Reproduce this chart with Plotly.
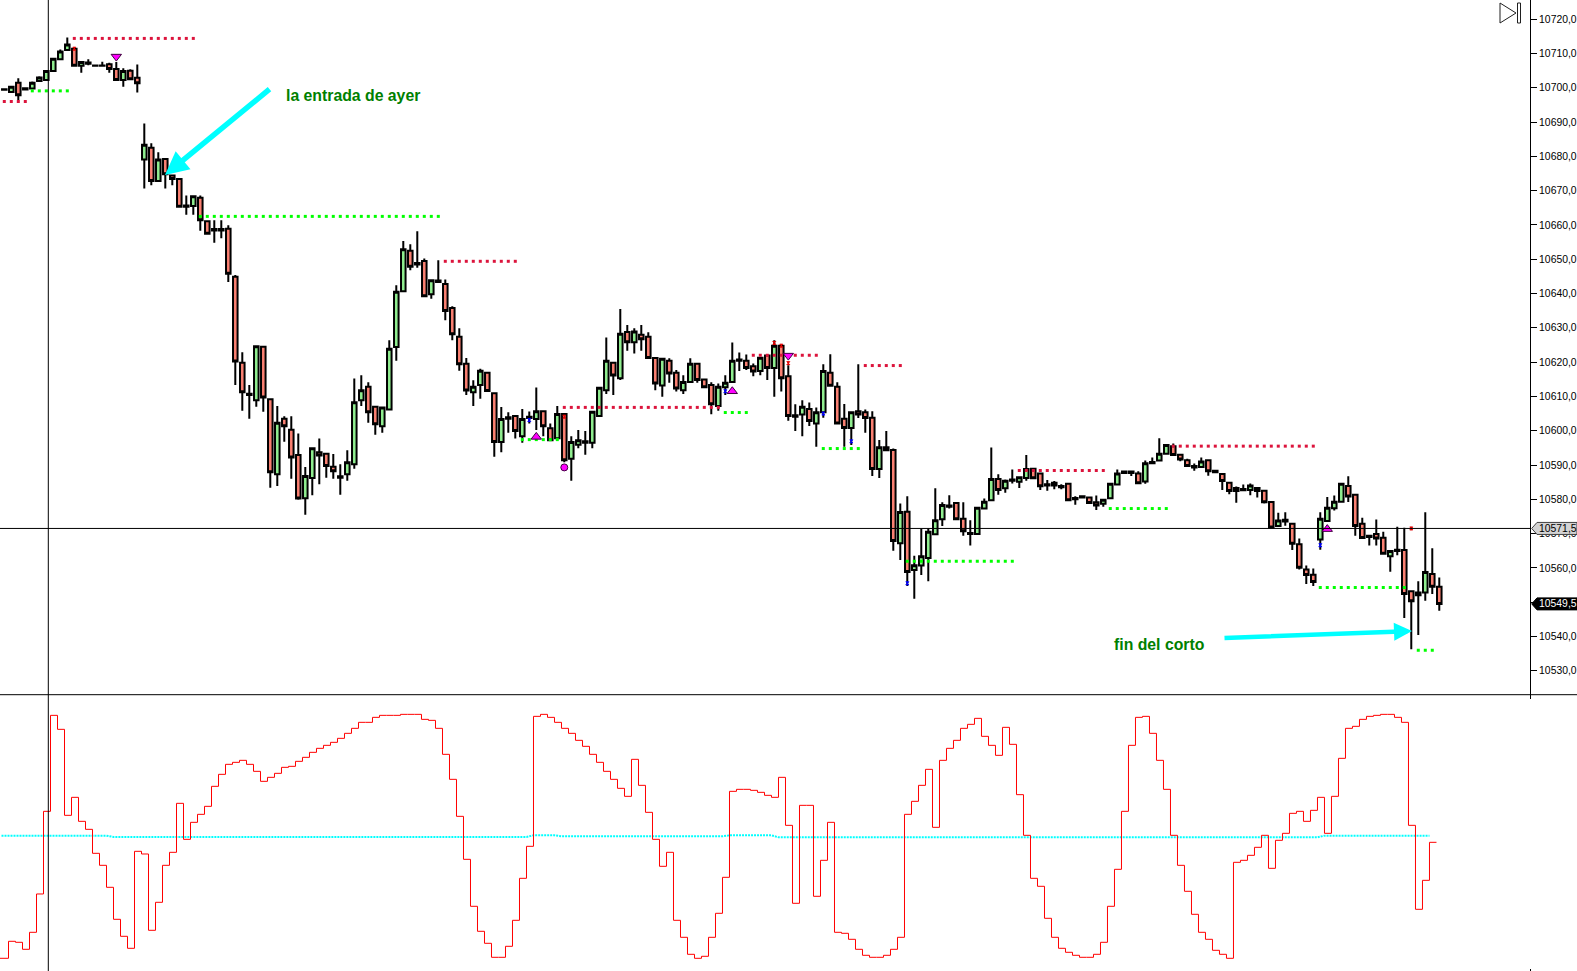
import plotly.graph_objects as go
from plotly.subplots import make_subplots

W, H = 1577, 971

# candles: top and bottom of each body, wick ends
tops = [
    10699.6, 10700.3, 10701.5, 10699.9, 10701.5, 10703.0, 10704.9, 10708.5, 10710.6, 10712.6,
    10711.4, 10707.5, 10707.4, 10706.5, 10706.5, 10706.9, 10705.5, 10704.9, 10705.0, 10702.9,
    10683.4, 10682.5, 10679.1, 10679.2, 10674.4, 10673.4, 10665.7, 10668.4, 10667.9, 10661.1,
    10658.8, 10658.8, 10658.9, 10644.9, 10619.8, 10610.8, 10624.6, 10624.5, 10609.2, 10602.3,
    10603.5, 10600.3, 10592.9, 10586.8, 10594.9, 10593.7, 10593.3, 10589.5, 10586.7, 10590.8,
    10608.3, 10611.8, 10612.8, 10607.0, 10606.8, 10623.9, 10640.5, 10652.9, 10652.5, 10648.9,
    10649.5, 10643.9, 10643.8, 10642.8, 10635.8, 10627.4, 10619.5, 10612.8, 10617.5, 10616.9,
    10610.9, 10603.4, 10603.9, 10604.3, 10603.4, 10604.1, 10605.7, 10605.7, 10600.7, 10604.9,
    10604.9, 10596.7, 10597.2, 10596.9, 10605.5, 10612.5, 10620.4, 10619.8, 10628.3, 10628.8,
    10628.9, 10628.0, 10627.4, 10621.2, 10621.0, 10620.4, 10616.9, 10614.2, 10619.5, 10619.5,
    10614.9, 10613.3, 10612.8, 10614.0, 10620.4, 10620.8, 10620.4, 10618.8, 10621.3, 10621.9,
    10624.8, 10624.8, 10615.9, 10604.5, 10607.0, 10606.3, 10605.4, 10617.4, 10616.9, 10612.8,
    10603.5, 10605.4, 10605.7, 10605.4, 10603.8, 10595.2, 10595.2, 10594.4, 10576.3, 10576.4,
    10560.8, 10563.4, 10570.5, 10573.9, 10578.3, 10578.2, 10578.9, 10574.3, 10570.2, 10577.5,
    10579.3, 10585.9, 10585.9, 10585.4, 10585.8, 10586.4, 10588.8, 10588.9, 10587.5, 10584.4,
    10584.8, 10583.9, 10584.5, 10580.4, 10580.9, 10580.5, 10579.1, 10579.9, 10584.5, 10587.5,
    10588.1, 10588.1, 10587.5, 10590.5, 10590.9, 10593.3, 10595.8, 10595.5, 10593.0, 10591.4,
    10589.7, 10591.0, 10591.4, 10588.3, 10587.4, 10584.8, 10583.3, 10583.0, 10584.0, 10583.3,
    10582.5, 10579.2, 10573.8, 10574.0, 10572.9, 10566.9, 10559.5, 10558.0, 10574.3, 10577.5,
    10579.3, 10584.5, 10583.9, 10581.3, 10572.9, 10569.4, 10569.9, 10568.8, 10564.9, 10565.3,
    10565.2, 10553.2, 10552.8, 10558.8, 10558.2, 10554.5,
]
bottoms = [
    10699.4, 10698.8, 10697.8, 10699.5, 10699.8, 10702.0, 10702.3, 10704.9, 10708.3, 10711.0,
    10706.4, 10706.4, 10707.0, 10706.4, 10706.4, 10705.5, 10702.3, 10702.3, 10702.5, 10701.3,
    10679.1, 10672.8, 10672.8, 10674.8, 10673.4, 10665.3, 10665.3, 10665.5, 10661.4, 10657.4,
    10658.4, 10658.4, 10645.8, 10620.2, 10611.2, 10610.4, 10608.9, 10609.7, 10587.9, 10587.3,
    10601.3, 10592.2, 10580.2, 10580.3, 10586.2, 10592.8, 10589.7, 10588.2, 10586.3, 10587.3,
    10590.2, 10608.9, 10605.4, 10601.9, 10601.3, 10606.2, 10624.4, 10640.7, 10647.8, 10648.5,
    10639.2, 10639.8, 10643.4, 10634.9, 10628.1, 10619.4, 10611.7, 10611.2, 10613.3, 10611.6,
    10596.7, 10596.7, 10603.5, 10599.9, 10598.4, 10603.7, 10603.4, 10601.3, 10597.2, 10597.8,
    10591.4, 10591.8, 10595.9, 10596.5, 10596.5, 10604.3, 10611.8, 10616.1, 10615.3, 10625.8,
    10625.8, 10626.7, 10621.2, 10613.8, 10613.2, 10616.7, 10612.3, 10611.8, 10614.2, 10614.8,
    10612.7, 10607.7, 10607.2, 10612.7, 10614.2, 10620.4, 10618.3, 10617.3, 10617.4, 10618.3,
    10618.3, 10615.3, 10604.3, 10604.1, 10604.7, 10602.8, 10602.1, 10605.4, 10613.1, 10602.1,
    10600.8, 10600.8, 10604.7, 10603.7, 10588.8, 10588.8, 10594.3, 10567.8, 10567.2, 10558.8,
    10559.4, 10560.7, 10562.9, 10569.8, 10574.2, 10577.8, 10574.2, 10570.7, 10569.9, 10569.9,
    10577.3, 10579.7, 10582.7, 10583.2, 10585.4, 10585.1, 10586.2, 10586.1, 10583.8, 10584.0,
    10584.0, 10583.5, 10579.7, 10580.0, 10580.5, 10578.9, 10578.2, 10578.7, 10580.3, 10584.3,
    10587.7, 10587.7, 10584.7, 10585.2, 10590.5, 10591.3, 10593.3, 10592.9, 10591.6, 10589.7,
    10589.3, 10589.4, 10588.2, 10587.9, 10585.3, 10582.4, 10582.4, 10582.6, 10582.7, 10582.4,
    10579.1, 10571.8, 10572.2, 10573.5, 10567.0, 10560.0, 10557.9, 10555.9, 10568.3, 10573.7,
    10577.4, 10579.3, 10580.8, 10572.2, 10568.7, 10569.0, 10568.6, 10564.1, 10563.4, 10564.9,
    10552.4, 10550.3, 10552.0, 10552.8, 10554.5, 10549.5,
]
highs = [
    10699.8, 10700.5, 10702.8, 10700.1, 10701.8, 10703.4, 10705.2, 10708.5, 10711.2, 10714.7,
    10711.8, 10707.5, 10708.3, 10706.6, 10707.6, 10707.3, 10707.5, 10705.7, 10705.4, 10706.8,
    10689.6, 10683.8, 10681.2, 10679.2, 10674.4, 10673.6, 10668.6, 10668.4, 10668.6, 10661.4,
    10661.4, 10661.4, 10659.9, 10645.4, 10622.9, 10613.3, 10624.6, 10624.5, 10609.2, 10607.2,
    10604.2, 10604.2, 10599.2, 10589.4, 10594.9, 10597.7, 10593.4, 10593.2, 10590.2, 10594.3,
    10615.2, 10616.2, 10614.1, 10607.0, 10607.0, 10626.4, 10642.4, 10655.3, 10654.4, 10658.2,
    10650.2, 10643.9, 10649.7, 10644.1, 10636.3, 10629.9, 10621.2, 10614.7, 10618.1, 10617.2,
    10611.1, 10606.9, 10605.4, 10604.5, 10606.3, 10605.6, 10612.6, 10605.8, 10602.1, 10607.2,
    10604.9, 10598.4, 10600.2, 10599.9, 10605.7, 10612.5, 10627.2, 10619.8, 10635.5, 10630.8,
    10629.9, 10630.8, 10628.7, 10621.2, 10621.0, 10621.1, 10617.7, 10616.2, 10621.1, 10619.5,
    10614.9, 10614.1, 10613.8, 10616.2, 10625.7, 10622.8, 10622.2, 10619.6, 10621.6, 10622.0,
    10626.4, 10625.0, 10619.1, 10607.7, 10608.9, 10608.2, 10606.8, 10619.4, 10622.3, 10614.1,
    10607.8, 10605.4, 10619.4, 10606.2, 10605.7, 10597.3, 10599.9, 10594.8, 10578.8, 10580.9,
    10563.5, 10571.4, 10571.5, 10583.2, 10579.1, 10581.2, 10579.1, 10579.1, 10573.9, 10577.5,
    10580.2, 10595.1, 10587.3, 10585.8, 10588.7, 10586.6, 10592.9, 10589.1, 10587.5, 10585.6,
    10585.3, 10584.4, 10584.6, 10580.9, 10581.1, 10580.5, 10581.1, 10580.0, 10584.6, 10588.7,
    10588.2, 10588.2, 10588.2, 10591.3, 10592.2, 10597.8, 10596.0, 10596.3, 10593.0, 10591.8,
    10590.4, 10592.2, 10591.6, 10588.5, 10587.5, 10585.0, 10583.7, 10584.3, 10584.6, 10583.3,
    10582.7, 10579.4, 10576.1, 10576.2, 10573.1, 10568.6, 10560.7, 10559.8, 10576.2, 10580.7,
    10581.1, 10584.5, 10586.7, 10581.3, 10574.6, 10569.6, 10574.1, 10570.5, 10564.9, 10572.0,
    10571.7, 10553.2, 10556.1, 10576.2, 10565.7, 10557.2,
]
lows = [
    10699.2, 10698.6, 10696.4, 10699.4, 10699.5, 10701.8, 10702.1, 10704.9, 10708.1, 10710.8,
    10706.4, 10704.4, 10706.6, 10706.2, 10706.2, 10704.4, 10702.3, 10700.3, 10702.3, 10698.6,
    10670.6, 10671.6, 10672.6, 10670.6, 10671.6, 10665.1, 10663.0, 10663.0, 10658.3, 10657.2,
    10654.8, 10656.1, 10643.4, 10613.3, 10605.8, 10603.5, 10607.0, 10605.5, 10583.4, 10583.9,
    10596.8, 10586.0, 10579.9, 10575.5, 10581.2, 10584.4, 10586.3, 10586.0, 10581.3, 10585.4,
    10588.9, 10607.2, 10602.3, 10598.8, 10599.4, 10606.0, 10620.4, 10640.5, 10646.8, 10647.5,
    10639.0, 10638.5, 10643.3, 10632.2, 10626.4, 10617.5, 10610.4, 10607.2, 10609.3, 10611.4,
    10592.4, 10593.7, 10599.4, 10597.7, 10596.5, 10602.1, 10600.2, 10598.4, 10596.9, 10597.6,
    10590.8, 10585.4, 10594.9, 10593.0, 10594.9, 10604.1, 10610.7, 10610.4, 10614.8, 10623.3,
    10622.5, 10623.3, 10621.2, 10611.8, 10609.9, 10614.0, 10611.4, 10610.7, 10614.0, 10614.0,
    10612.6, 10604.8, 10605.8, 10610.4, 10614.0, 10617.4, 10617.7, 10615.9, 10616.2, 10614.8,
    10609.9, 10611.4, 10602.9, 10599.9, 10598.4, 10601.4, 10595.3, 10603.8, 10612.8, 10601.9,
    10595.3, 10595.8, 10603.7, 10599.4, 10586.8, 10586.2, 10594.1, 10565.0, 10562.3, 10554.7,
    10551.0, 10557.9, 10556.1, 10569.6, 10572.2, 10577.3, 10574.1, 10569.4, 10566.5, 10569.6,
    10577.1, 10579.5, 10581.3, 10581.9, 10584.6, 10583.3, 10585.4, 10586.0, 10582.7, 10582.5,
    10582.9, 10582.9, 10579.6, 10578.4, 10580.2, 10578.8, 10576.9, 10577.8, 10580.1, 10584.1,
    10587.5, 10586.8, 10584.6, 10584.5, 10590.2, 10591.1, 10593.1, 10592.8, 10591.1, 10589.5,
    10588.3, 10589.2, 10586.9, 10587.8, 10582.7, 10581.5, 10579.0, 10582.5, 10581.2, 10580.5,
    10578.8, 10571.6, 10572.0, 10572.3, 10565.2, 10559.5, 10555.3, 10554.7, 10565.3, 10573.5,
    10576.7, 10579.1, 10579.2, 10569.4, 10568.6, 10566.5, 10566.5, 10564.0, 10558.9, 10563.7,
    10545.4, 10536.3, 10540.4, 10550.4, 10552.4, 10547.5,
]
up_bars = {
    1, 4, 5, 6, 7, 8, 9, 11, 17, 20, 22, 27, 36, 39, 43, 44, 49, 50, 51, 54, 55, 56, 57, 61, 67, 68,
    71, 74, 76, 79, 81, 82, 84, 85, 86, 88, 90, 94, 97, 98, 102, 103, 104, 108, 110, 114, 116, 117,
    121, 125, 128, 130, 131, 132, 133, 134, 139, 140, 141, 143, 145, 146, 157, 158, 159, 163, 165,
    166, 171, 178, 182, 188, 189, 190, 191, 198, 202, 203,
}

# dotted levels: first bar, last bar, price
red_levels = [
    (0, 3, 10696.0), (10, 27, 10714.4), (63, 73, 10649.4), (80, 102, 10606.8),
    (107, 116, 10622.0), (123, 128, 10619.0), (145, 157, 10588.4), (167, 187, 10595.5),
]
green_levels = [
    (4, 9, 10699.1), (28, 62, 10662.5), (74, 79, 10597.4), (103, 106, 10605.3), (117, 122, 10594.8),
    (129, 144, 10561.9), (158, 166, 10577.3), (188, 200, 10554.3), (202, 204, 10536.0),
]

# signal marks
tri_down = [(16, 10709.1), (112, 10621.9)]
tri_up = [(76, 10598.2), (104, 10611.5), (189, 10571.3)]
circles = [(80, 10589.3)]
blue_ticks = [(75, 10603.1), (103, 10611.5), (117, 10605.0), (121, 10596.9), (129, 10555.5), (188, 10566.6)]
red_ticks = [(10, 10711.4), (80, 10604.1), (110, 10625.6), (111, 10624.8), (112, 10619.7), (201, 10571.5)]

# lower pane
oscillator = [
    0, 51, 48, 27, 78, 193, 441, 729, 687, 429,
    483, 411, 387, 315, 279, 213, 117, 66, 30, 321,
    313, 84, 168, 279, 318, 465, 357, 408, 432, 456,
    516, 552, 582, 588, 594, 582, 561, 531, 543, 555,
    573, 576, 591, 603, 618, 630, 639, 648, 660, 675,
    690, 708, 708, 723, 729, 729, 729, 732, 732, 732,
    717, 714, 690, 612, 537, 426, 297, 156, 81, 45,
    3, 3, 36, 114, 240, 336, 726, 732, 723, 708,
    690, 675, 654, 636, 612, 588, 561, 537, 510, 486,
    597, 519, 438, 357, 276, 318, 114, 63, 12, 0,
    6, 63, 135, 243, 501, 507, 507, 504, 498, 489,
    483, 543, 399, 165, 459, 459, 186, 294, 408, 78,
    75, 57, 27, 9, 3, 3, 9, 27, 63, 432,
    471, 519, 567, 393, 594, 630, 654, 690, 702, 720,
    666, 639, 609, 693, 642, 491, 369, 240, 216, 120,
    63, 30, 18, 9, 3, 3, 12, 48, 156, 267,
    441, 639, 723, 726, 675, 594, 507, 369, 279, 201,
    132, 78, 57, 24, 12, 0, 288, 294, 309, 333,
    369, 270, 354, 375, 435, 441, 411, 444, 483, 375,
    486, 600, 690, 696, 717, 726, 729, 732, 732, 723,
    708, 399, 147, 234, 348,
]
midline = [368] * 16 + [364] * 60 + [369] * 4 + [366] * 24 + [369] * 7 + [363] * 78 + [368] * 16

price_ticks = list(range(10530, 10721, 10))
price_labels = [f"{p},0" for p in price_ticks]
last_price = 10549.5
cursor_price = 10571.5


def px(x):
    return x / W


def py(y):
    return 1 - y / H


bars = list(range(len(tops)))
opens = [b if i in up_bars else t for i, (t, b) in enumerate(zip(tops, bottoms))]
closes = [t if i in up_bars else b for i, (t, b) in enumerate(zip(tops, bottoms))]

fig = make_subplots(rows=2, cols=1, vertical_spacing=0, row_heights=[0.7155, 0.2845])

fig.add_trace(
    go.Candlestick(
        x=bars, open=opens, high=highs, low=lows, close=closes,
        increasing=dict(line=dict(color="black", width=2), fillcolor="#90EE90"),
        decreasing=dict(line=dict(color="black", width=2), fillcolor="#FA8072"),
        whiskerwidth=0,
        hoverinfo="skip",
    ),
    row=1, col=1,
)

# dotted levels are a dot per bar
for levels, color in ((red_levels, "#DC143C"), (green_levels, "#00FF00")):
    xs, ys = [], []
    for first, last, price in levels:
        for b in range(first, last + 1):
            xs.append(b)
            ys.append(price)
    fig.add_trace(
        go.Scatter(x=xs, y=ys, mode="markers", marker=dict(symbol="square", size=3, color=color)),
        row=1, col=1,
    )

for marks, symbol, size, color, outline in (
    (tri_down, "triangle-down", 9, "#FF00FF", "#400040"),
    (tri_up, "triangle-up", 9, "#FF00FF", "#400040"),
    (circles, "circle", 7, "#FF00FF", "#400040"),
    (blue_ticks, "hourglass", 3, "#0000FF", "#0000FF"),
    (red_ticks, "hourglass", 3, "#E00000", "#E00000"),
):
    fig.add_trace(
        go.Scatter(
            x=[m[0] for m in marks],
            y=[m[1] for m in marks],
            mode="markers",
            marker=dict(symbol=symbol, size=size, color=color, line=dict(color=outline, width=1)),
        ),
        row=1, col=1,
    )

# lower pane is drawn a little left of the bars
osc_x = [-1] + [i - 0.4 for i in range(1, len(oscillator) + 1)]
fig.add_trace(
    go.Scatter(
        x=[b - 0.4 for b in bars[: len(midline)]], y=midline, mode="lines",
        line=dict(color="#00FFFF", width=2, dash="2px,1px"),
    ),
    row=2, col=1,
)
fig.add_trace(
    go.Scatter(
        x=osc_x, y=oscillator + [oscillator[-1]], mode="lines",
        line=dict(color="#FF0000", width=1, shape="hv"),
    ),
    row=2, col=1,
)

x_range = [-0.614, 217.96]
fig.update_xaxes(range=x_range, visible=False, domain=[0, px(1530)], rangeslider_visible=False, automargin=False)
fig.update_yaxes(
    row=1, col=1,
    range=[10523.0, 10725.6],
    side="right",
    automargin=False,
    showgrid=False,
    zeroline=False,
    showline=True,
    linecolor="black",
    linewidth=1,
    ticks="outside",
    ticklen=6,
    tickcolor="black",
    tickvals=price_ticks,
    ticktext=price_labels,
    tickfont=dict(family="Liberation Sans", size=10.4, color="#000000"),
)
fig.update_yaxes(row=2, col=1, range=[-38.1, 790.8], visible=False, automargin=False)

line_black = dict(color="black", width=1)
# pane border, crosshair
fig.add_shape(type="line", xref="paper", yref="paper", x0=0, x1=1, y0=py(694.7), y1=py(694.7), line=line_black, layer="above")
fig.add_shape(type="line", xref="paper", yref="paper", x0=px(48.3), x1=px(48.3), y0=0, y1=1, line=line_black, layer="above")
fig.add_shape(type="line", xref="paper", yref="y", x0=0, x1=px(1530), y0=cursor_price, y1=cursor_price, line=line_black, layer="above")
fig.add_shape(type="line", xref="paper", yref="paper", x0=px(1530.5), x1=px(1530.5), y0=py(694.7), y1=py(699), line=line_black, layer="above")
fig.add_shape(type="line", xref="paper", yref="paper", x0=px(1530.5), x1=px(1530.5), y0=py(969), y1=py(971), line=line_black, layer="above")


# price tags on the axis
def price_tag(price, fill, border, text_color):
    path = (
        f"M {px(1531.7)},{price} L {px(1537)},{price + 1.75} L 1,{price + 1.75} "
        f"L 1,{price - 1.75} L {px(1537)},{price - 1.75} Z"
    )
    fig.add_shape(type="path", xref="paper", yref="y", path=path, fillcolor=fill, line=dict(color=border, width=1), layer="above")
    label = f"{price:.1f}".replace(".", ",")
    fig.add_annotation(
        xref="paper", yref="y", x=px(1538), y=price, text=label, showarrow=False,
        xanchor="left", yanchor="middle", borderpad=0,
        font=dict(family="Liberation Sans", size=10.4, color=text_color),
    )


price_tag(cursor_price, "#D3D3D3", "#404040", "#000000")
price_tag(last_price, "#000000", "#000000", "#FFFFFF")

# jump-to-end icon, top right
fig.add_shape(
    type="path", xref="paper", yref="paper",
    path=f"M {px(1500)},{py(3)} L {px(1516)},{py(13)} L {px(1500)},{py(23)} Z",
    line=dict(color="#202020", width=1), fillcolor="white",
)
fig.add_shape(
    type="rect", xref="paper", yref="paper",
    x0=px(1517.5), x1=px(1520.5), y0=py(3), y1=py(23),
    line=dict(color="#202020", width=1), fillcolor="white",
)

# hand-drawn arrows and notes
fig.add_annotation(
    xref="paper", yref="paper", x=px(165), y=py(175), ax=271 - 165, ay=88 - 175,
    text="", showarrow=True, arrowcolor="#00FFFF", arrowwidth=5.5, arrowhead=2, arrowsize=0.85,
)
fig.add_annotation(
    xref="paper", yref="paper", x=px(1412), y=py(631), ax=1223 - 1412, ay=638 - 631,
    text="", showarrow=True, arrowcolor="#00FFFF", arrowwidth=4.5, arrowhead=2, arrowsize=0.8,
)
note_font = dict(family="Liberation Sans", size=15.8, color="#008000")
fig.add_annotation(
    xref="paper", yref="paper", x=px(284), y=py(95.5), text="<b>la entrada de ayer</b>",
    showarrow=False, xanchor="left", yanchor="middle", font=note_font,
)
fig.add_annotation(
    xref="paper", yref="paper", x=px(1112), y=py(644), text="<b>fin del corto</b>",
    showarrow=False, xanchor="left", yanchor="middle", font=note_font,
)

fig.update_layout(
    width=W,
    height=H,
    margin=dict(l=0, r=0, t=0, b=0),
    paper_bgcolor="white",
    plot_bgcolor="white",
    showlegend=False,
    boxgap=0.35,
    boxgroupgap=0,
    hovermode=False,
)

fig.write_html(
    "out.html",
    config={"displayModeBar": False},
    post_script="document.body.style.margin='0';document.body.style.overflow='hidden';",
)
